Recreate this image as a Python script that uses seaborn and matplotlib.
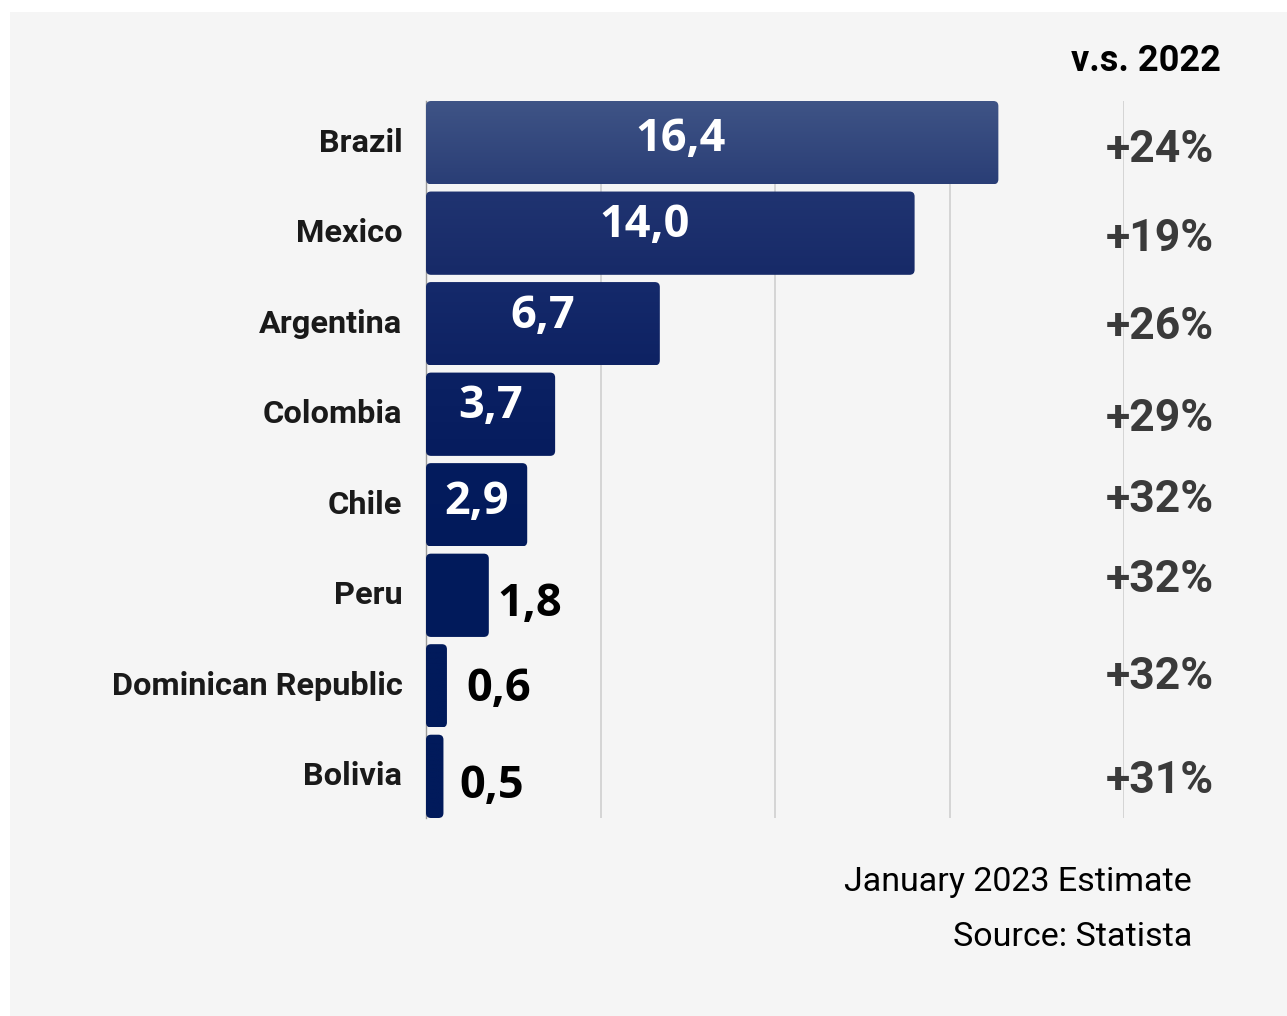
import numpy as np
import pandas as pd
import matplotlib.pyplot as plt
import matplotlib.transforms as mtransforms
import seaborn as sns
from matplotlib.patches import FancyBboxPatch, Rectangle
from matplotlib.colors import to_rgb

# data
countries = ["Brazil", "Mexico", "Argentina", "Colombia", "Chile", "Peru",
             "Dominican Republic", "Bolivia"]
values = [16.4, 14.0, 6.7, 3.7, 2.9, 1.8, 0.6, 0.5]
growth = ["+24%", "+19%", "+26%", "+29%", "+32%", "+32%", "+32%", "+31%"]

# styling per bar
bar_top = ["#3f5486", "#203471", "#152a6b", "#0b2163", "#041c5e", "#021b5c", "#011a5b", "#011a5b"]
bar_bot = ["#2a3e76", "#172a68", "#0e2263", "#061c5e", "#021a5b", "#011a5b", "#011a5b", "#011a5b"]
pct_nudge = [0.04, 0.02, 0.0, 0.01, -0.09, -0.21, -0.14, 0.01]
label_dx = [-0.9, -0.75, 0, 0, 0, 0.25, 0.55, 0.45]
label_dy = [-0.04, -0.09, -0.08, -0.08, -0.03, 0.1, 0.04, 0.11]

df = pd.DataFrame({"country": countries, "value": values})

sns.set_style("white")
plt.rcParams["font.family"] = ["Roboto", "DejaVu Sans"]

fig = plt.figure(figsize=(12.87, 10.16), dpi=100, facecolor="white")
fig.patches.append(Rectangle((10 / 1287, 0), 1, 1 - 12 / 1016, transform=fig.transFigure,
                             facecolor="#f5f5f5", edgecolor="none", zorder=-10))
ax = fig.add_axes([426 / 1287, 1 - 818 / 1016, (1124 - 426) / 1287, (818 - 101) / 1016])
ax.set_facecolor("none")

sns.barplot(data=df, x="value", y="country", orient="h", width=0.92,
            color="#011a5b", ax=ax)

ax.set_xticks([5, 10, 15, 20])
ax.xaxis.grid(True, color="#cfcfcf", lw=1.2)
ax.set_axisbelow(True)
ax.tick_params(axis="x", length=0, labelbottom=False)
ax.tick_params(axis="y", length=0, pad=17)
ax.set_yticks(range(len(countries)))
ax.set_yticklabels(countries, fontsize=23.4, fontweight="bold", color="#1a1a1a")
for lbl in ax.get_yticklabels():
    lbl.set_y(lbl.get_position()[1])
    lbl.set_transform(lbl.get_transform() + mtransforms.Affine2D().translate(0, 3))
ax.set_xlabel("")
ax.set_ylabel("")
for s in ["top", "right", "bottom"]:
    ax.spines[s].set_visible(False)
ax.spines["left"].set_color("#9a9a9a")
ax.spines["left"].set_linewidth(1.0)

# rounded bars with a soft vertical gradient
px_x = (1124 - 426) / 20
px_y = (818 - 101) / 7.92
r = 5 / px_x
for i, p in enumerate(list(ax.patches)):
    x0, y0, w, h = p.get_x(), p.get_y(), p.get_width(), p.get_height()
    p.remove()
    box = FancyBboxPatch((x0, y0), w, h, boxstyle=f"round,pad=0,rounding_size={r}",
                         mutation_aspect=px_x / px_y, facecolor="none",
                         edgecolor="none", zorder=3)
    ax.add_patch(box)
    c1, c2 = np.array(to_rgb(bar_top[i])), np.array(to_rgb(bar_bot[i]))
    t = np.linspace(0, 1, 64)[:, None, None]
    grad = c1 * (1 - t) + c2 * t
    im = ax.imshow(grad, extent=(x0, x0 + w, y0 + h, y0), aspect="auto",
                   zorder=3, interpolation="bilinear")
    im.set_clip_path(box)

ax.set_xlim(0, 20)
ax.set_ylim(7.46, -0.46)

# value labels
for i, v in enumerate(values):
    txt = f"{v:.1f}".replace(".", ",")
    if v > 2.5:
        ax.text(v / 2 + label_dx[i], i + label_dy[i], txt, ha="center", va="center",
                color="white", fontsize=32.5, fontweight="bold", family="Open Sans", zorder=5)
    else:
        ax.text(v + label_dx[i], i + label_dy[i], txt, ha="left", va="center",
                color="black", fontsize=32.5, fontweight="bold", family="Open Sans", zorder=5)

# growth vs 2022
trans = mtransforms.blended_transform_factory(fig.transFigure, ax.transData)
for i, g in enumerate(growth):
    ax.text(1214 / 1287, i + pct_nudge[i] + 0.04, g, transform=trans,
            ha="right", va="center", fontsize=32, fontweight="bold", color="#3a3a3a")

fig.text(1221 / 1287, 1 - 61 / 1016, "v.s. 2022", ha="right", va="center",
         fontsize=26, fontweight="bold", color="black")
fig.text(1192 / 1287, 1 - 882 / 1016, "January 2023 Estimate", ha="right", va="center",
         fontsize=24.5, color="black")
fig.text(1192 / 1287, 1 - 937 / 1016, "Source: Statista", ha="right", va="center",
         fontsize=24.5, color="black")

fig.savefig("out.png", dpi=100, facecolor=fig.get_facecolor())
